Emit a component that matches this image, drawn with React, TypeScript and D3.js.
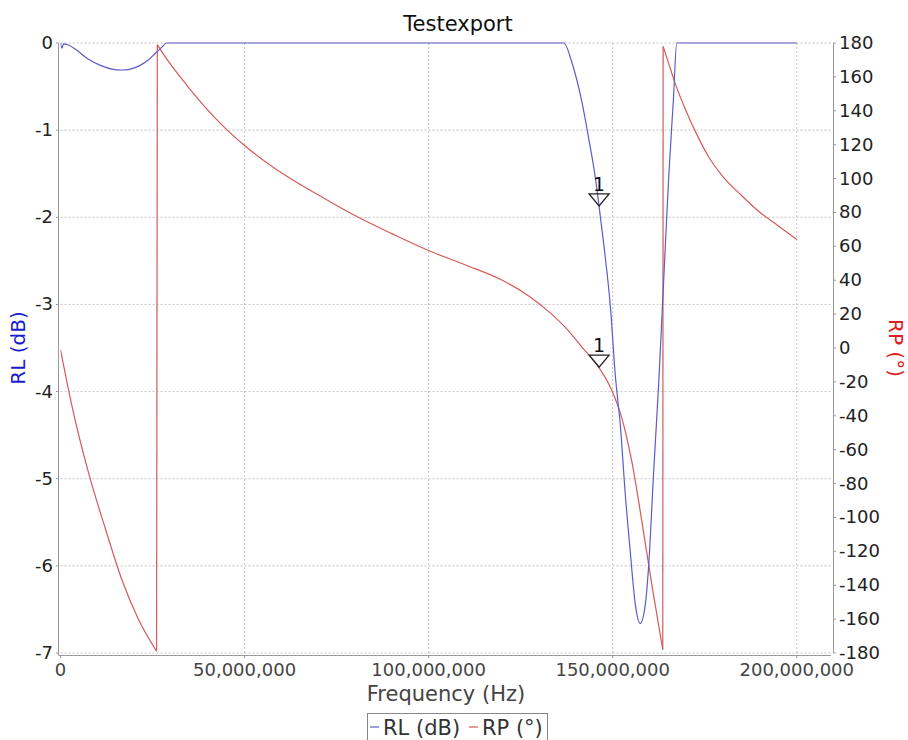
import React from 'react';
import * as d3 from 'd3';

// RL (dB) trace, frequency in MHz
const rlFreq = [0, 0.4, 0.8, 2, 4, 7.7, 11, 14, 16.7, 19, 21.5, 24, 25.7, 27.5, 28.8, 60, 100, 136.7, 139.0, 141.7, 143.5, 145.3, 146.2, 147.6, 149.4, 150.7, 152.1, 153.4, 154.8, 156.1, 157.5, 158.9, 159.8, 161.1, 162.5, 163.8, 165.2, 166.5, 167.4, 185, 200];
const rlValues = [0, -0.06, -0.01, -0.02, -0.07, -0.19, -0.26, -0.3, -0.31, -0.3, -0.26, -0.19, -0.12, -0.05, 0, 0, 0, 0, -0.235, -0.69, -1.1, -1.55, -1.84, -2.32, -3.04, -3.81, -4.4, -5.17, -5.85, -6.43, -6.66, -6.43, -5.98, -4.94, -3.9, -2.77, -1.55, -0.64, 0, 0, 0];

// RP (°) trace, frequency in MHz
const rpFreq = [0, 3.15, 7.66, 12.2, 16.7, 21.2, 26.1, 26.3, 27.5, 34.7, 43.7, 50, 61.7, 70.7, 79.7, 90, 100, 110, 120, 127, 132.7, 137.2, 141.7, 146.2, 149.8, 152.5, 155.2, 157.9, 160.6, 163.6, 163.7, 165.2, 167, 169.7, 173.3, 176, 180, 185, 190, 195, 200];
const rpValues = [-1, -34.6, -74, -106.7, -136.9, -160.2, -179, 179, 174.9, 154, 132, 119.5, 101, 89.5, 78.5, 67.5, 57.5, 49, 40, 31, 21.3, 12, 0.4, -11.3, -25.2, -41.5, -67.1, -102, -139.3, -178, 178, 168, 156, 141, 124, 113, 101, 90, 80, 72, 64];

// marker "1"
const markerFreq = 146.3;
const markerRL = -1.87;
const markerRP = -11.3;

const xTicks = [0, 50e6, 100e6, 150e6, 200e6];
const rlTicks = [0, -1, -2, -3, -4, -5, -6, -7];
const rpTicks = d3.range(180, -181, -20);

const W = 908;
const H = 740;
const plot = { left: 60.5, right: 831, top: 43, bottom: 653 };
const font = '"DejaVu Sans", sans-serif';

const x = d3.scaleLinear().domain([0, 209.3e6]).range([plot.left, plot.right]);
const yL = d3.scaleLinear().domain([-7, 0]).range([plot.bottom, plot.top]);
const yR = d3.scaleLinear().domain([-180, 180]).range([plot.bottom, plot.top]);

const fmt = d3.format(',');

// split a trace where the phase wraps, so each piece is smoothed on its own
function splitAtWraps(freq: number[], vals: number[]) {
  const pieces: [number, number][][] = [];
  let cur: [number, number][] = [];
  vals.forEach((v, i) => {
    if (i > 0 && Math.abs(v - vals[i - 1]) > 300) {
      pieces.push(cur);
      cur = [];
    }
    cur.push([freq[i], v]);
  });
  pieces.push(cur);
  return pieces;
}

const App: React.FC = () => {
  const rlLine = d3.line<number>()
    .x((_d, i) => x(rlFreq[i] * 1e6))
    .y(d => yL(d))
    .curve(d3.curveMonotoneX);
  const rpLine = d3.line<[number, number]>()
    .x(d => x(d[0] * 1e6))
    .y(d => yR(d[1]))
    .curve(d3.curveMonotoneX);

  const rpPieces = splitAtWraps(rpFreq, rpValues);
  const rpJumps = rpPieces.slice(1).map((p, i) => {
    const prev = rpPieces[i][rpPieces[i].length - 1];
    return [prev, p[0]];
  });

  const marker = (px: number, py: number) => (
    <g>
      <path d={`M${px - 10},${py - 12} L${px + 10},${py - 12} L${px},${py} Z`} fill="none" stroke="#222" strokeWidth={1.3} />
      <text x={px} y={py - 15} textAnchor="middle" fontSize={19} fill="#111" fontFamily={font}>1</text>
    </g>
  );

  return (
    <svg width={W} height={H} style={{ position: 'absolute', left: 0, top: 0, background: '#fff' }}>
      <rect x={0} y={0} width={W} height={H} fill="#fff" />
      <text x={458} y={31} textAnchor="middle" fontSize={21} fill="#111" fontFamily={font}>Testexport</text>

      <clipPath id="plotClip">
        <rect x={plot.left} y={plot.top - 1} width={plot.right - plot.left} height={plot.bottom - plot.top + 2} />
      </clipPath>

      {/* gridlines */}
      <g stroke="#c4c4c4" strokeWidth={1} strokeDasharray="2,2">
        {xTicks.slice(1).map(t => (
          <line key={t} x1={x(t)} x2={x(t)} y1={plot.top} y2={plot.bottom} />
        ))}
        {rlTicks.map(t => (
          <line key={t} x1={plot.left} x2={plot.right} y1={yL(t)} y2={yL(t)} />
        ))}
      </g>

      {/* axis lines */}
      <g stroke="#999" strokeWidth={1}>
        <line x1={58.5} x2={58.5} y1={plot.top} y2={plot.bottom + 2} />
        <line x1={58.5} x2={plot.right} y1={655.5} y2={655.5} />
        <line x1={833.5} x2={833.5} y1={plot.top} y2={plot.bottom} />
        {rlTicks.map(t => <line key={t} x1={56} x2={58.5} y1={yL(t)} y2={yL(t)} />)}
        {rpTicks.map(t => <line key={t} x1={833.5} x2={836} y1={yR(t)} y2={yR(t)} />)}
        {xTicks.map(t => <line key={t} x1={x(t)} x2={x(t)} y1={655.5} y2={658} />)}
      </g>

      {/* series */}
      <g clipPath="url(#plotClip)" fill="none" strokeWidth={1.2}>
        {rpPieces.map((p, i) => <path key={i} d={rpLine(p) || ''} stroke="#d65a5a" />)}
        {rpJumps.map((j, i) => (
          <line key={i} x1={x(j[0][0] * 1e6)} y1={yR(j[0][1])} x2={x(j[1][0] * 1e6)} y2={yR(j[1][1])} stroke="#d65a5a" />
        ))}
        <path d={rlLine(rlValues) || ''} stroke="#5c5cc8" />
      </g>

      {marker(x(markerFreq * 1e6), yL(markerRL))}
      {marker(x(markerFreq * 1e6), yR(markerRP))}

      {/* left ticks */}
      {rlTicks.map(t => (
        <text key={t} x={53} y={yL(t) + 6} textAnchor="end" fontSize={18} fill="#222" fontFamily={font}>{t}</text>
      ))}
      {/* right ticks */}
      {rpTicks.map(t => (
        <text key={t} x={839} y={yR(t) + 6} textAnchor="start" fontSize={18} fill="#222" fontFamily={font}>{t}</text>
      ))}
      {/* bottom ticks */}
      {xTicks.map(t => (
        <text key={t} x={x(t)} y={676} textAnchor="middle" fontSize={18} fill="#444" fontFamily={font}>{fmt(t)}</text>
      ))}

      <text x={446} y={701} textAnchor="middle" fontSize={21} fill="#444" fontFamily={font}>Frequency (Hz)</text>
      <text transform={`translate(25,${(plot.top + plot.bottom) / 2}) rotate(-90)`} textAnchor="middle" fontSize={20} fill="#1a1ad0" fontFamily={font}>RL (dB)</text>
      <text transform={`translate(889,${(plot.top + plot.bottom) / 2}) rotate(90)`} textAnchor="middle" fontSize={20} fill="#e02020" fontFamily={font}>RP (°)</text>

      {/* legend */}
      <rect x={367.5} y={713.5} width={180} height={40} fill="#fff" stroke="#888" />
      <line x1={370} x2={379} y1={727} y2={727} stroke="#5c5cc8" strokeWidth={1.2} />
      <text x={383} y={735} fontSize={21} fill="#333" fontFamily={font}>RL (dB)</text>
      <line x1={469} x2={478} y1={727} y2={727} stroke="#d65a5a" strokeWidth={1.2} />
      <text x={482} y={735} fontSize={21} fill="#333" fontFamily={font}>RP (°)</text>
    </svg>
  );
};

export default App;
